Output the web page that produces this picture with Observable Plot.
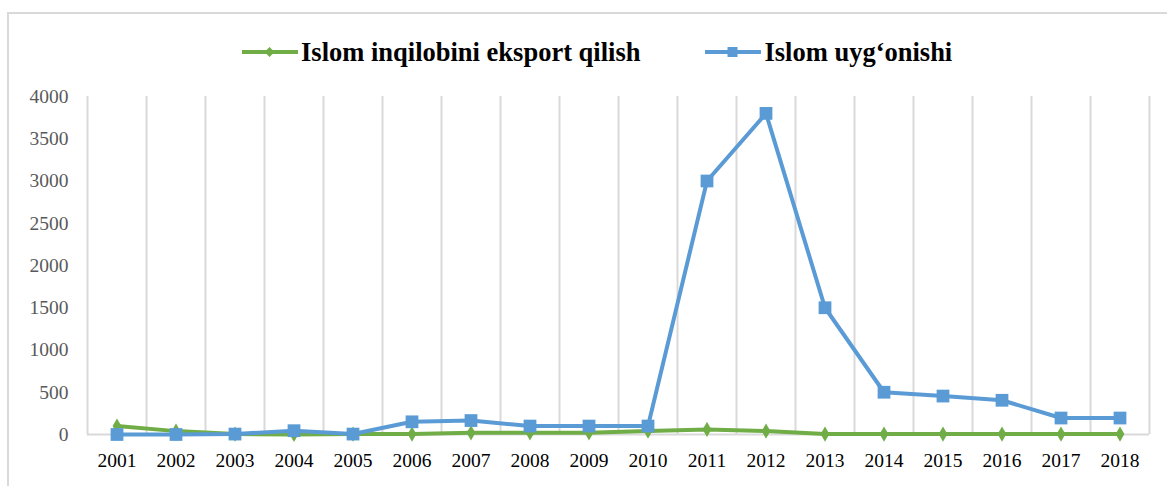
<!DOCTYPE html>
<html>
<head>
<meta charset="utf-8">
<script src="https://cdn.jsdelivr.net/npm/d3@7"></script>
<script src="https://cdn.jsdelivr.net/npm/@observablehq/plot@0.6"></script>
<style>
  html, body { margin: 0; padding: 0; background: #fff; overflow: hidden; width: 1167px; height: 486px; }
  #wrap { position: relative; width: 1167px; height: 486px; }
  #frame { position: absolute; left: 7px; top: 12px; width: 1400px; height: 700px; border: 2px solid #d9d9d9; box-sizing: border-box; }
  #legend { position: absolute; left: 242px; top: 36px; height: 32px; display: flex; align-items: center;
            font-family: "Liberation Serif", "Times New Roman", serif; font-weight: bold; font-size: 26.5px; color: #000; white-space: nowrap; }
  .item { display: flex; align-items: center; }
  .item svg { margin-right: 3px; }
  #chart { position: absolute; left: 0; top: 0; }
</style>
</head>
<body>
<div id="wrap">
  <div id="frame"></div>
  <div id="chart"></div>
  <div id="legend"></div>
</div>
<script>
const years = [2001, 2002, 2003, 2004, 2005, 2006, 2007, 2008, 2009, 2010, 2011, 2012, 2013, 2014, 2015, 2016, 2017, 2018];
const eksport = [100, 40, 5, 0, 5, 5, 20, 20, 20, 40, 60, 40, 5, 5, 5, 5, 5, 5];
const uygonishi = [0, 0, 5, 45, 5, 150, 165, 100, 100, 100, 3000, 3800, 1500, 500, 455, 405, 195, 195];
const seriesNames = ["Islom inqilobini eksport qilish", "Islom uyg\u2018onishi"];
const seriesColors = ["#70AD47", "#5B9BD5"];
const yTicks = [0, 500, 1000, 1500, 2000, 2500, 3000, 3500, 4000];

const greenData = years.map((yr, i) => ({year: yr, value: eksport[i]}));
const blueData = years.map((yr, i) => ({year: yr, value: uygonishi[i]}));
const boundaries = [...years.map(y => y - 0.5), years[years.length - 1] + 0.5];

const chart = Plot.plot({
  width: 1167,
  height: 486,
  marginTop: 96,
  marginBottom: 52,
  marginLeft: 87,
  marginRight: 18,
  style: {fontFamily: "'Liberation Serif', 'Times New Roman', serif", fontSize: "19px", background: "transparent"},
  x: {domain: [years[0] - 0.5, years[years.length - 1] + 0.5]},
  y: {domain: [0, 4000]},
  marks: [
    Plot.ruleX(boundaries, {stroke: "#d9d9d9", strokeWidth: 2}),
    Plot.ruleY([0], {stroke: "#d9d9d9", strokeWidth: 2}),
    Plot.axisX(years, {tickSize: 0, tickPadding: 19, tickFormat: d => String(d), label: null, color: "#000", fontSize: 19.5, fontFamily: "Liberation Serif"}),
    Plot.axisY(yTicks, {tickSize: 0, tickPadding: 19, tickFormat: d => String(d), label: null, color: "#595959", fontSize: 19.5, fontFamily: "Liberation Serif"}),
    Plot.line(greenData, {x: "year", y: "value", stroke: seriesColors[0], strokeWidth: 4, strokeLinejoin: "round"}),
    Plot.dot(greenData, {x: "year", y: "value", symbol: "diamond", r: 4.6, fill: seriesColors[0], stroke: "none"}),
    Plot.line(blueData, {x: "year", y: "value", stroke: seriesColors[1], strokeWidth: 4, strokeLinejoin: "round"}),
    Plot.dot(blueData, {x: "year", y: "value", symbol: "square", r: 7.2, fill: seriesColors[1], stroke: "none"})
  ]
});
document.getElementById("chart").appendChild(chart);

// Legend
const legend = document.getElementById("legend");
const shapes = [
  c => `<line x1="0" y1="8" x2="55" y2="8" stroke="${c}" stroke-width="4" stroke-linecap="round"/><path d="M27.5 3 L32.5 8 L27.5 13 L22.5 8 Z" fill="${c}"/>`,
  c => `<line x1="0" y1="8" x2="55" y2="8" stroke="${c}" stroke-width="4" stroke-linecap="round"/><rect x="22.5" y="3" width="10" height="10" fill="${c}"/>`
];
seriesNames.forEach((name, i) => {
  const item = document.createElement("div");
  item.className = "item";
  if (i > 0) item.style.marginLeft = "65px";
  item.innerHTML = `<svg width="56" height="16">${shapes[i](seriesColors[i])}</svg><span>${name}</span>`;
  legend.appendChild(item);
});
</script>
</body>
</html>
